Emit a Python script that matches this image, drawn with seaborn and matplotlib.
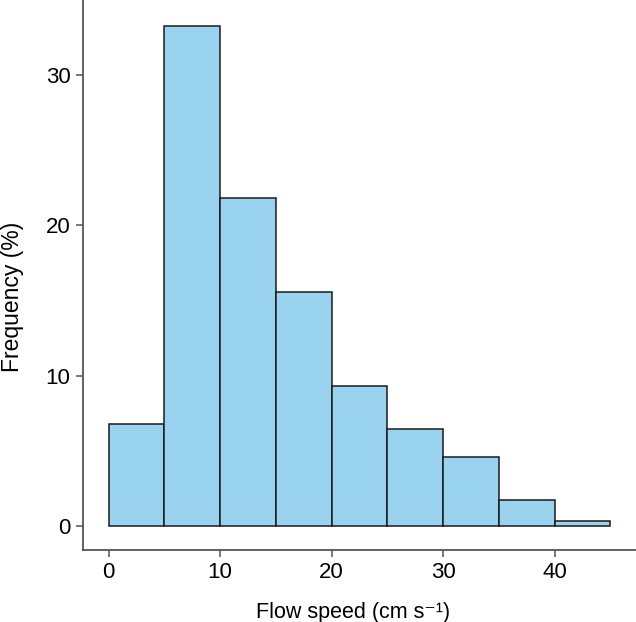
import matplotlib
matplotlib.use('Agg')
import matplotlib.pyplot as plt
import seaborn as sns

# bin left edges (cm/s) and frequency (%)
bin_left = [0, 5, 10, 15, 20, 25, 30, 35, 40]
bin_edges = [0, 5, 10, 15, 20, 25, 30, 35, 40, 45]
frequency = [6.8, 33.3, 21.8, 15.6, 9.3, 6.45, 4.6, 1.73, 0.35]
x_ticks = [0, 10, 20, 30, 40]
y_ticks = [0, 10, 20, 30]

sns.set_style('ticks')
plt.rcParams['font.family'] = ['Liberation Sans', 'DejaVu Sans']
plt.rcParams['text.color'] = 'black'
plt.rcParams['axes.labelcolor'] = 'black'
plt.rcParams['xtick.labelcolor'] = 'black'
plt.rcParams['ytick.labelcolor'] = 'black'

fig = plt.figure(figsize=(6.36, 6.22), dpi=100)
ax = fig.add_axes([0.1305, 0.1158, 0.8695, 0.8842])

sns.histplot(x=bin_left, weights=frequency, bins=bin_edges, ax=ax,
             color='#9ad3f0', alpha=1, edgecolor='#1a1a1a', linewidth=1.1)

ax.set_xlim(-2.3, 47.3)
ax.set_ylim(-1.6, 35)
ax.set_xticks(x_ticks)
ax.set_yticks(y_ticks)
ax.tick_params(labelsize=16, length=5, width=1.1, color='#555555', pad=4)
for side in ['top', 'right']:
    ax.spines[side].set_visible(False)
for side in ['left', 'bottom']:
    ax.spines[side].set_color('#555555')
    ax.spines[side].set_linewidth(1.3)

ax.set_xlabel('Flow speed (cm s\u207b\u00b9)', fontsize=15.5)
ax.set_ylabel('Frequency (%)', fontsize=16.5)
ax.xaxis.set_label_coords(0.489, -0.095)
ax.yaxis.set_label_coords(-0.107, 0.46)

fig.savefig('out.png', dpi=100)
